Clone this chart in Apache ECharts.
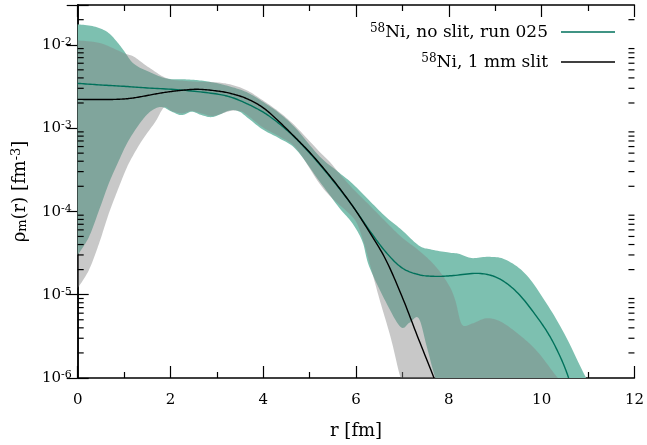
<!DOCTYPE html>
<html>
<head>
<meta charset="utf-8">
<script src="https://cdn.jsdelivr.net/npm/echarts@6/dist/echarts.min.js"></script>
<style>
  html, body { margin: 0; padding: 0; background: #fff; }
  #chart { width: 647px; height: 445px; }
</style>
</head>
<body>
<div id="chart"></div>
<script>
// Matter density of 58Ni from the two measurements, with uncertainty bands.
const FONT = 'DejaVu Serif';

const xMin = 0, xMax = 12, xStep = 2;
const yMin = 1e-6, yMax = 3e-2;
const yDecades = [-6, -5, -4, -3, -2];
const minorMultipliers = [2, 3, 4, 5, 6, 7, 8, 9];

// central curves [r (fm), rho (fm^-3)]
const noSlitCurve = [
  [0, 3.44e-3], [0.5, 3.29e-3], [1.0, 3.17e-3], [1.5, 3.03e-3], [2.2, 2.87e-3],
  [2.92, 2.6e-3], [3.3, 2.35e-3], [3.64, 1.97e-3], [4.0, 1.55e-3], [4.35, 1.12e-3],
  [4.7, 7.5e-4], [5.06, 4.6e-4], [5.5, 2.35e-4], [5.92, 1.17e-4], [6.28, 6.0e-5],
  [6.64, 3.25e-5], [6.99, 2.1e-5], [7.35, 1.74e-5], [7.7, 1.66e-5], [8.06, 1.69e-5],
  [8.64, 1.8e-5], [9.07, 1.57e-5], [9.49, 1.04e-5], [9.92, 5.2e-6], [10.2, 3.0e-6],
  [10.45, 1.56e-6], [10.6, 9.4e-7], [10.65, 8e-7]
];
const slitCurve = [
  [0, 2.21e-3], [0.5, 2.2e-3], [0.8, 2.21e-3], [1.1, 2.26e-3], [1.4, 2.4e-3],
  [1.7, 2.58e-3], [2.0, 2.74e-3], [2.3, 2.86e-3], [2.6, 2.92e-3], [3.0, 2.79e-3],
  [3.3, 2.6e-3], [3.64, 2.26e-3], [4.0, 1.75e-3], [4.35, 1.18e-3], [4.7, 7.6e-4],
  [5.06, 4.7e-4], [5.5, 2.4e-4], [5.92, 1.17e-4], [6.28, 5.75e-5], [6.64, 2.63e-5],
  [6.99, 9.5e-6], [7.35, 2.9e-6], [7.71, 9e-7], [7.85, 5e-7]
];

// uncertainty band, no slit
const noSlitUpper = [
  [0, 1.76e-2], [0.35, 1.66e-2], [0.64, 1.42e-2], [0.85, 1.08e-2], [1.0, 8.4e-3],
  [1.21, 5.9e-3], [1.56, 4.67e-3], [1.92, 3.93e-3], [2.28, 3.85e-3], [2.6, 3.75e-3],
  [2.95, 3.5e-3], [3.28, 3.16e-3], [3.64, 2.7e-3], [3.99, 2.07e-3], [4.35, 1.5e-3],
  [4.71, 9.8e-4], [5.21, 4.6e-4], [5.64, 2.9e-4], [5.92, 2.16e-4], [6.28, 1.36e-4],
  [6.64, 8.6e-5], [6.99, 5.95e-5], [7.35, 3.9e-5], [7.6, 3.5e-5], [8.0, 3.2e-5],
  [8.21, 3.1e-5], [8.49, 2.75e-5], [8.85, 2.85e-5], [9.21, 2.65e-5], [9.64, 1.8e-5],
  [10.06, 8.6e-6], [10.49, 3.4e-6], [10.96, 1.0e-6], [11.05, 7e-7]
];
const noSlitLower = [
  [0, 3.0e-5], [0.24, 4.9e-5], [0.46, 1.03e-4], [0.67, 2.16e-4], [0.89, 4.1e-4],
  [1.1, 7.15e-4], [1.39, 1.24e-3], [1.6, 1.63e-3], [1.81, 1.79e-3], [2.03, 1.57e-3],
  [2.24, 1.43e-3], [2.46, 1.57e-3], [2.67, 1.43e-3], [2.92, 1.36e-3], [3.28, 1.63e-3],
  [3.49, 1.57e-3], [3.64, 1.36e-3], [3.99, 9.6e-4], [4.35, 7.5e-4], [4.71, 5.5e-4],
  [5.21, 2.3e-4], [5.64, 1.1e-4], [5.92, 7.2e-5], [6.14, 4.3e-5], [6.28, 2.2e-5],
  [6.64, 8.2e-6], [6.96, 4.1e-6], [7.15, 4.6e-6], [7.35, 5.2e-6], [7.53, 2.3e-6],
  [7.71, 1e-6], [7.8, 5e-7], [9.0, 1e-7], [11.05, 1e-7]
];

// uncertainty band, 1 mm slit
const slitUpper = [
  [0, 1.13e-2], [0.5, 1.04e-2], [1.0, 7.9e-3], [1.21, 7.2e-3], [1.5, 5.5e-3],
  [1.92, 3.95e-3], [2.28, 3.7e-3], [2.6, 3.6e-3], [2.95, 3.55e-3], [3.28, 3.35e-3],
  [3.64, 2.85e-3], [3.99, 2.15e-3], [4.35, 1.55e-3], [4.71, 1.03e-3], [5.21, 5.2e-4],
  [5.42, 4.0e-4], [5.64, 2.85e-4], [5.92, 1.9e-4], [6.28, 1.2e-4], [6.64, 7.5e-5],
  [7.0, 4.8e-5], [7.35, 3.4e-5], [7.71, 2.2e-5], [8.0, 1.3e-5], [8.14, 8.5e-6],
  [8.28, 4.4e-6], [8.5, 4.5e-6], [8.8, 5.2e-6], [9.1, 4.8e-6], [9.49, 3.4e-6],
  [9.9, 2.1e-6], [10.35, 1.0e-6], [10.45, 7e-7]
];
const slitLower = [
  [0, 1.2e-5], [0.24, 1.97e-5], [0.46, 4.12e-5], [0.67, 9.4e-5], [0.89, 1.97e-4],
  [1.1, 3.75e-4], [1.39, 7.15e-4], [1.67, 1.18e-3], [1.81, 1.63e-3], [1.89, 1.79e-3],
  [2.03, 1.6e-3], [2.24, 1.5e-3], [2.46, 1.6e-3], [2.67, 1.5e-3], [2.92, 1.4e-3],
  [3.28, 1.6e-3], [3.49, 1.6e-3], [3.64, 1.45e-3], [3.99, 1.02e-3], [4.35, 7.9e-4],
  [4.71, 5.7e-4], [5.21, 2.16e-4], [5.49, 1.43e-4], [5.8, 1.0e-4], [6.0, 7.5e-5],
  [6.15, 4.5e-5], [6.3, 2.3e-5], [6.5, 9e-6], [6.75, 3e-6], [6.96, 1e-6],
  [7.05, 5e-7], [8.0, 1e-7], [10.45, 1e-7]
];

const legendNames = ['Ni, no slit, run 025', 'Ni, 1 mm slit'];
const isotopeMass = '58';

const colors = {
  noSlitLine: '#00715b',
  slitLine: '#000000',
  noSlitBand: '#7dc0b0',
  slitBand: 'rgba(133,133,133,0.45)'
};

// Catmull-Rom sampling of pixel points, for smooth curves and band edges
function sampleSpline(pts, steps) {
  const out = [];
  const n = pts.length;
  for (let i = 0; i < n - 1; i++) {
    const p0 = pts[Math.max(i - 1, 0)], p1 = pts[i], p2 = pts[i + 1], p3 = pts[Math.min(i + 2, n - 1)];
    for (let s = 0; s < steps; s++) {
      const t = s / steps, t2 = t * t, t3 = t2 * t;
      const f = (a, b, c, d) => 0.5 * ((2 * b) + (-a + c) * t + (2 * a - 5 * b + 4 * c - d) * t2 + (-a + 3 * b - 3 * c + d) * t3);
      out.push([f(p0[0], p1[0], p2[0], p3[0]), f(p0[1], p1[1], p2[1], p3[1])]);
    }
  }
  out.push(pts[n - 1]);
  return out;
}

function bandSeries(name, upper, lower, fill, z) {
  return {
    type: 'custom',
    name: name,
    z: z,
    clip: true,
    silent: true,
    data: [[0, 1]],
    renderItem: function (params, api) {
      const cs = params.coordSys;
      const bottom = cs.y + cs.height;
      const toPx = p => {
        const c = api.coord([p[0], Math.max(p[1], yMin * 0.5)]);
        return [c[0], Math.min(c[1], bottom + 1)];
      };
      const up = sampleSpline(upper.map(toPx), 10);
      const lo = sampleSpline(lower.map(toPx), 10).reverse();
      return {
        type: 'polygon',
        shape: { points: up.concat(lo) },
        style: { fill: fill, stroke: null }
      };
    }
  };
}

function curveSeries(name, curve, color, z) {
  return {
    type: 'custom',
    name: name,
    z: z,
    clip: true,
    silent: true,
    itemStyle: { color: color },
    data: [[0, 1]],
    renderItem: function (params, api) {
      const cs = params.coordSys;
      const bottom = cs.y + cs.height;
      const pts = sampleSpline(curve.map(p => api.coord(p)), 12)
        .filter((p, i, arr) => p[1] <= bottom + 0.5 || (i > 0 && arr[i - 1][1] <= bottom + 0.5));
      // finish exactly on the lower frame edge
      const last = pts[pts.length - 1], prev = pts[pts.length - 2];
      if (last[1] > bottom) {
        const k = (bottom - prev[1]) / (last[1] - prev[1]);
        pts[pts.length - 1] = [prev[0] + k * (last[0] - prev[0]), bottom];
      }
      return {
        type: 'polyline',
        shape: { points: pts },
        style: { stroke: color, lineWidth: 1.4, fill: null, lineJoin: 'round' }
      };
    }
  };
}

// minor ticks of the logarithmic axis, on both sides of the frame
const minorTickValues = [];
yDecades.forEach(e => minorMultipliers.forEach(m => {
  const v = m * Math.pow(10, e);
  if (v < yMax) minorTickValues.push([0, v]);
}));

function richSet(size) {
  const small = Math.round(size * 0.7);
  return {
    b: { fontFamily: FONT, fontSize: size, color: '#000', lineHeight: size + 1, verticalAlign: 'bottom' },
    rho: { fontFamily: FONT, fontSize: size, color: '#000', lineHeight: size + 1, verticalAlign: 'bottom' },
    sup: { fontFamily: FONT, fontSize: small, color: '#000', lineHeight: small, verticalAlign: 'top', padding: [0, 0, 8, 0] },
    sub: { fontFamily: FONT, fontSize: small, color: '#000', lineHeight: small, verticalAlign: 'bottom', padding: [8, 0, 0, 0] }
  };
}

const chart = echarts.init(document.getElementById('chart'), null, { renderer: 'canvas' });

const axisLineStyle = { color: '#000', width: 1.5 };
const majorTick = { show: true, inside: true, length: 12, lineStyle: { color: '#000', width: 1.2 } };
const minorTick = { show: true, splitNumber: 2, length: 6, lineStyle: { color: '#000', width: 1.2 } };

chart.setOption({
  animation: false,
  backgroundColor: '#fff',
  grid: { left: 77, right: 10, top: 5, bottom: 67, containLabel: false },
  legend: {
    orient: 'vertical',
    right: 27,
    top: 18,
    align: 'right',
    icon: 'rect',
    itemWidth: 54,
    itemHeight: 1.6,
    itemGap: 10,
    selectedMode: false,
    data: legendNames,
    formatter: name => '{sup|' + isotopeMass + '}{b|' + name + '}',
    textStyle: {
      fontFamily: FONT, fontSize: 17, color: '#000', padding: [0, 8, 0, 0],
      rich: richSet(17)
    }
  },
  xAxis: [{
    type: 'value', min: xMin, max: xMax, interval: xStep,
    name: 'r [fm]', nameLocation: 'middle', nameGap: 44,
    nameTextStyle: { fontFamily: FONT, fontSize: 18, color: '#000' },
    axisLine: { show: true, lineStyle: axisLineStyle },
    axisTick: majorTick, minorTick: minorTick,
    splitLine: { show: false },
    axisLabel: { fontFamily: FONT, fontSize: 15, color: '#000', margin: 15 }
  }, {
    type: 'value', position: 'top', min: xMin, max: xMax, interval: xStep,
    axisLine: { show: true, lineStyle: axisLineStyle },
    axisTick: majorTick, minorTick: minorTick,
    splitLine: { show: false },
    axisLabel: { show: false }
  }],
  yAxis: [{
    type: 'log', logBase: 10, min: yMin, max: yMax,
    name: '{rho|ρ}{sub|m}{b|(r) [fm}{sup|-3}{b|]}',
    nameLocation: 'middle', nameGap: 41, nameRotate: 90,
    nameTextStyle: { fontFamily: FONT, fontSize: 18, color: '#000', rich: richSet(18) },
    axisLine: { show: true, lineStyle: axisLineStyle },
    axisTick: Object.assign({}, majorTick, { length: 11 }),
    splitLine: { show: false },
    axisLabel: {
      margin: 6,
      formatter: v => {
        const e = Math.log10(v);
        const k = Math.round(e);
        return Math.abs(e - k) < 1e-6 ? '{b|10}{sup|' + k + '}' : '';
      },
      rich: richSet(15)
    }
  }, {
    type: 'log', logBase: 10, min: yMin, max: yMax, position: 'right',
    axisLine: { show: true, lineStyle: axisLineStyle },
    axisTick: Object.assign({}, majorTick, { length: 11 }),
    splitLine: { show: false },
    axisLabel: { show: false }
  }],
  series: [
    bandSeries('noSlitBand', noSlitUpper, noSlitLower, colors.noSlitBand, 1),
    bandSeries('slitBand', slitUpper, slitLower, colors.slitBand, 2),
    curveSeries(legendNames[0], noSlitCurve, colors.noSlitLine, 4),
    curveSeries(legendNames[1], slitCurve, colors.slitLine, 5),
    {
      type: 'custom', name: 'minorTicks', silent: true, z: 6,
      data: minorTickValues,
      renderItem: function (params, api) {
        const cs = params.coordSys;
        const y = api.coord([0, api.value(1)])[1];
        const st = { stroke: '#000', lineWidth: 1.2 };
        return {
          type: 'group',
          children: [
            { type: 'line', shape: { x1: cs.x, y1: y, x2: cs.x + 6, y2: y }, style: st },
            { type: 'line', shape: { x1: cs.x + cs.width - 6, y1: y, x2: cs.x + cs.width, y2: y }, style: st }
          ]
        };
      }
    }
  ]
});
</script>
</body>
</html>
